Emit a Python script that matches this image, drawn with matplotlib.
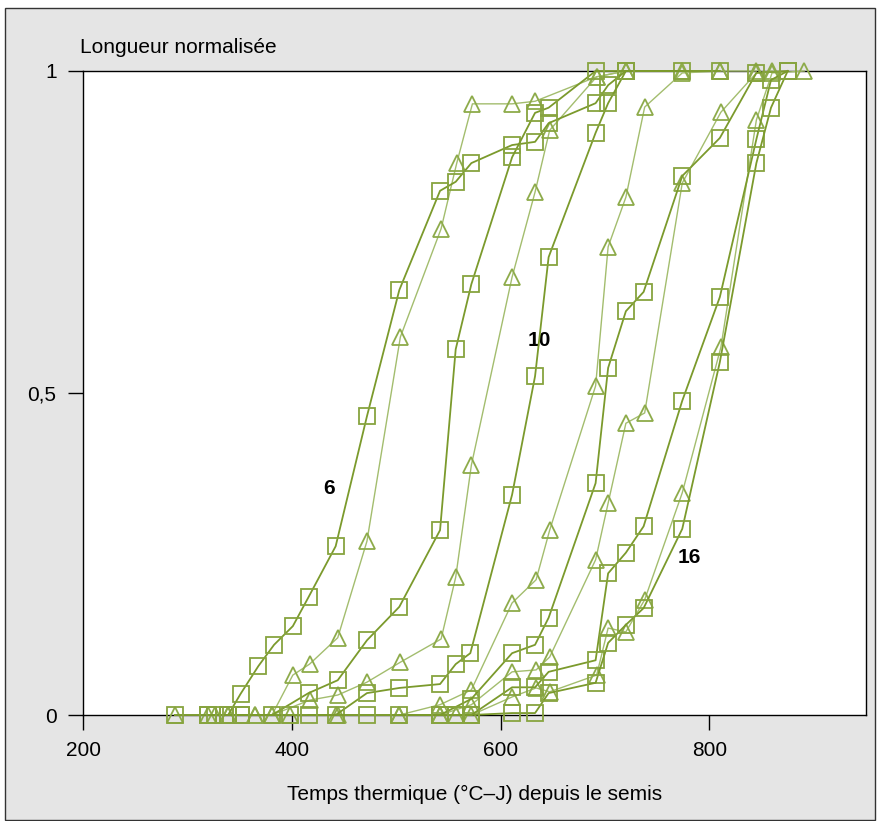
import matplotlib as mpl
mpl.use('Agg')
import matplotlib.pyplot as plt
from matplotlib.patches import Rectangle

plt.rcParams['font.family'] = ['Liberation Sans', 'DejaVu Sans']

# normalised leaf length vs thermal time, leaves 6..16
# squares and triangles = two series per leaf
s6_x = [288, 320, 339, 351, 368, 383, 401, 416, 442, 472, 503, 542, 557, 572, 611, 633, 646, 691, 703, 720, 774]
s6_y = [0, 0, 0, 0.033, 0.076, 0.109, 0.138, 0.183, 0.262, 0.464, 0.660, 0.814, 0.828, 0.857, 0.885, 0.890, 0.919, 0.950, 0.978, 1, 1]
t6_x = [288, 320, 339, 365, 381, 401, 417, 444, 472, 504, 543, 558, 573, 611, 633, 692, 720, 774, 845]
t6_y = [0, 0, 0, 0, 0, 0.062, 0.079, 0.120, 0.270, 0.587, 0.755, 0.857, 0.949, 0.949, 0.953, 0.991, 1, 1, 1]

s8_x = [320, 326, 351, 381, 416, 444, 472, 503, 542, 557, 572, 611, 633, 646, 691, 720]
s8_y = [0, 0, 0, 0, 0.034, 0.054, 0.116, 0.168, 0.287, 0.568, 0.669, 0.866, 0.935, 0.943, 1, 1]
t8_x = [326, 339, 381, 417, 444, 472, 504, 543, 557, 572, 611, 633, 647, 692, 720, 810]
t8_y = [0, 0, 0, 0.023, 0.031, 0.051, 0.082, 0.118, 0.214, 0.388, 0.680, 0.812, 0.908, 0.991, 1, 1]

s10_x = [339, 351, 398, 442, 472, 503, 542, 557, 571, 611, 633, 646, 691, 703, 720, 810]
s10_y = [0, 0, 0, 0, 0.034, 0.042, 0.048, 0.079, 0.096, 0.342, 0.526, 0.711, 0.904, 0.950, 1, 1]
t10_x = [365, 398, 442, 503, 542, 572, 611, 634, 647, 691, 703, 720, 738, 774, 810]
t10_y = [0, 0, 0, 0, 0.016, 0.039, 0.174, 0.210, 0.287, 0.511, 0.727, 0.804, 0.944, 0.997, 1]

s12_x = [416, 472, 542, 572, 611, 633, 646, 691, 703, 720, 737, 774, 810, 845, 875]
s12_y = [0, 0, 0, 0.025, 0.096, 0.109, 0.151, 0.360, 0.539, 0.627, 0.657, 0.837, 0.896, 0.997, 1]
t12_x = [444, 503, 542, 572, 611, 634, 647, 691, 703, 720, 738, 774, 811, 845, 860]
t12_y = [0, 0, 0, 0.016, 0.067, 0.070, 0.090, 0.241, 0.329, 0.453, 0.469, 0.826, 0.936, 0.997, 1]

s14_x = [503, 542, 557, 572, 611, 633, 646, 691, 703, 720, 737, 774, 810, 845, 859, 875]
s14_y = [0, 0, 0, 0, 0.043, 0.043, 0.067, 0.085, 0.220, 0.252, 0.293, 0.488, 0.649, 0.894, 0.986, 1]
t14_x = [542, 557, 572, 611, 634, 647, 692, 703, 720, 738, 774, 811, 845, 860, 891]
t14_y = [0, 0, 0, 0.028, 0.042, 0.036, 0.062, 0.135, 0.129, 0.179, 0.345, 0.571, 0.924, 0.997, 1]

s16_x = [557, 572, 611, 633, 646, 691, 703, 720, 737, 774, 810, 845, 859, 875]
s16_y = [0, 0, 0.003, 0.003, 0.034, 0.050, 0.112, 0.140, 0.166, 0.289, 0.548, 0.857, 0.943, 1]

squares = [(s6_x, s6_y), (s8_x, s8_y), (s10_x, s10_y), (s12_x, s12_y), (s14_x, s14_y), (s16_x, s16_y)]
triangles = [(t6_x, t6_y), (t8_x, t8_y), (t10_x, t10_y), (t12_x, t12_y), (t14_x, t14_y)]

leaf_labels = ['6', '10', '16']
label_x = [436, 637, 781]
label_y = [0.352, 0.581, 0.244]

W, H = 879, 821
fig = plt.figure(figsize=(W / 100, H / 100), dpi=100)
fig.patch.set_facecolor('white')
# grey panel with thin frame, kept behind the axes
panel = Rectangle((5 / W, 1 / H), 870 / W, 812 / H, transform=fig.transFigure,
                  facecolor='#e5e5e5', edgecolor='#333333', lw=1, zorder=-10)
fig.add_artist(panel)

ax = fig.add_axes([83 / W, 1 - 715 / H, (866 - 83) / W, (715 - 71) / H])
ax.set_zorder(1)
ax.set_facecolor('white')

for x, y in triangles:
    ax.plot(x, y, color='#a3bd6e', lw=1.0, marker='^', markersize=12, markerfacecolor='none',
            markeredgecolor='#8dab4a', markeredgewidth=1.3, clip_on=False, zorder=3)
for x, y in squares:
    ax.plot(x, y, color='#7b9a2c', lw=1.3, marker='s', markersize=11.5, markerfacecolor='none',
            markeredgecolor='#87a43f', markeredgewidth=1.3, clip_on=False, zorder=4)

for t, x, y in zip(leaf_labels, label_x, label_y):
    ax.text(x, y, t, fontsize=15, fontweight='bold', ha='center', va='center')

ax.set_xlim(200, 950)
ax.set_ylim(0, 1)
ax.set_xticks([200, 400, 600, 800])
ax.set_yticks([0, 0.5, 1])
ax.set_yticklabels(['0', '0,5', '1'])
ax.tick_params(direction='out', length=11, width=1, labelsize=15, pad=8, color='black')
for s in ax.spines.values():
    s.set_linewidth(1)

fig.text(80 / W, 1 - 53 / H, 'Longueur normalisée', fontsize=15, va='baseline', ha='left')
fig.text(474.5 / W, 1 - 800 / H, 'Temps thermique (°C–J) depuis le semis', fontsize=15,
         va='baseline', ha='center')

plt.savefig('out.png', dpi=100)
